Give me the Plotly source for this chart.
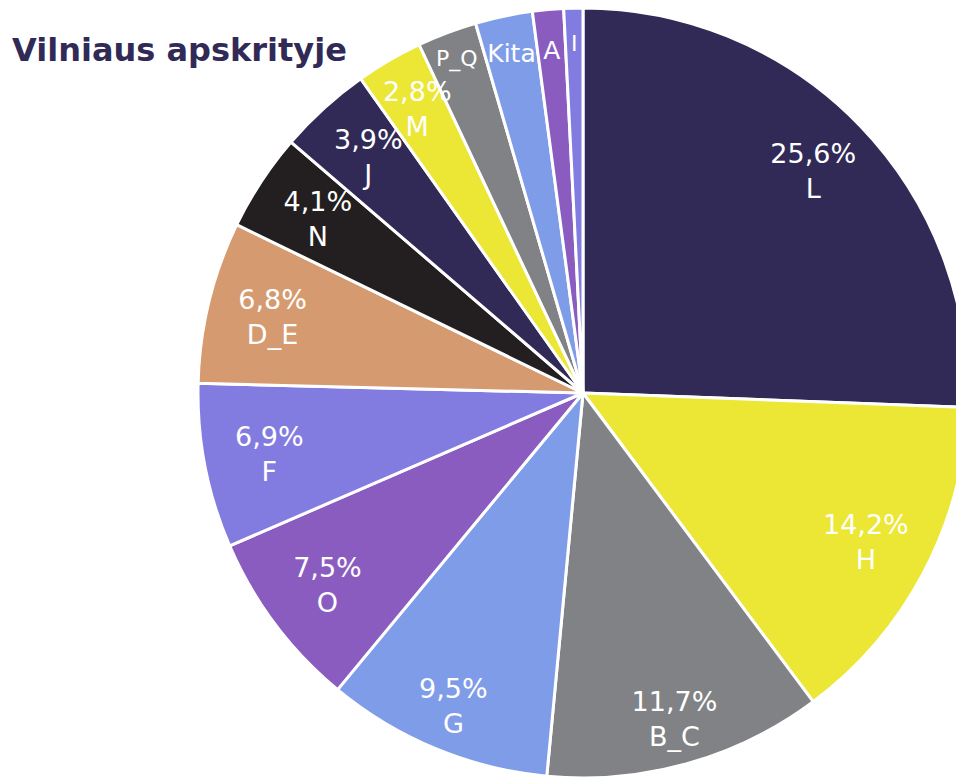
import plotly.graph_objects as go

labels = ["L", "H", "B_C", "G", "O", "F", "D_E", "N", "J", "M", "P_Q", "Kita", "A", "I"]
values = [25.6, 14.2, 11.7, 9.5, 7.5, 6.9, 6.8, 4.1, 3.9, 2.8, 2.5, 2.4, 1.3, 0.8]
colors = ["#312a57", "#ece634", "#818285", "#7f9ce8", "#8a5cbf", "#837ce0", "#d69a70",
          "#231f20", "#312a57", "#ece634", "#818285", "#7f9ce8", "#8a5cbf", "#837ce0"]
show_pct = [True] * 10 + [False] * 4
small_label_size = {"P_Q": 22, "Kita": 25, "A": 25, "I": 22}
# which label ring each slice's text sits in
label_group = ["a", "a", "b", "b", "a", "a", "a", "c", "c", "c", "a", "d", "c", "c"]
# group: (outer radius fraction, hole)
groups = {"a": (1.0, 0.66), "b": (1.0, 0.76), "c": (0.93, 0.66), "d": (0.97, 0.66)}

texts = []
for lab, v, sp in zip(labels, values, show_pct):
    if sp:
        texts.append(f"{v:.1f}".replace(".", ",") + "%<br>" + lab)
    else:
        texts.append(f'<span style="font-size:{small_label_size[lab]}px">{lab}</span>')

FONT = "Verdana, DejaVu Sans, sans-serif"

# base pie: the slices
fig = go.Figure(go.Pie(
    labels=labels,
    values=values,
    textinfo="none",
    hoverinfo="label+percent",
    sort=False,
    direction="clockwise",
    rotation=0,
    marker=dict(colors=colors, line=dict(color="white", width=3)),
    showlegend=False,
))

# transparent rings on top, carrying the labels
for g, (rad, hole) in groups.items():
    m = (1 - rad) / 2
    fig.add_trace(go.Pie(
        labels=labels,
        values=values,
        text=[t if lg == g else "" for t, lg in zip(texts, label_group)],
        textinfo="text",
        hoverinfo="skip",
        sort=False,
        direction="clockwise",
        rotation=0,
        hole=hole,
        domain=dict(x=[m, 1 - m], y=[m, 1 - m]),
        marker=dict(colors=["rgba(0,0,0,0)"] * len(labels), line=dict(width=0)),
        textposition="inside",
        insidetextorientation="horizontal",
        textfont=dict(family=FONT, size=27, color="white"),
        showlegend=False,
    ))

fig.update_layout(
    width=964,
    height=779,
    margin=dict(l=190, r=4, t=0, b=9),
    paper_bgcolor="white",
    plot_bgcolor="white",
    uniformtext=dict(minsize=27, mode="show"),
    title=dict(
        text="<b>Vilniaus apskrityje</b>",
        x=4 / 964,
        xanchor="left",
        xref="container",
        y=1 - 42 / 779,
        yanchor="middle",
        yref="container",
        font=dict(family=FONT, size=32, color="#312a57"),
    ),
)

fig.write_html("out.html")
